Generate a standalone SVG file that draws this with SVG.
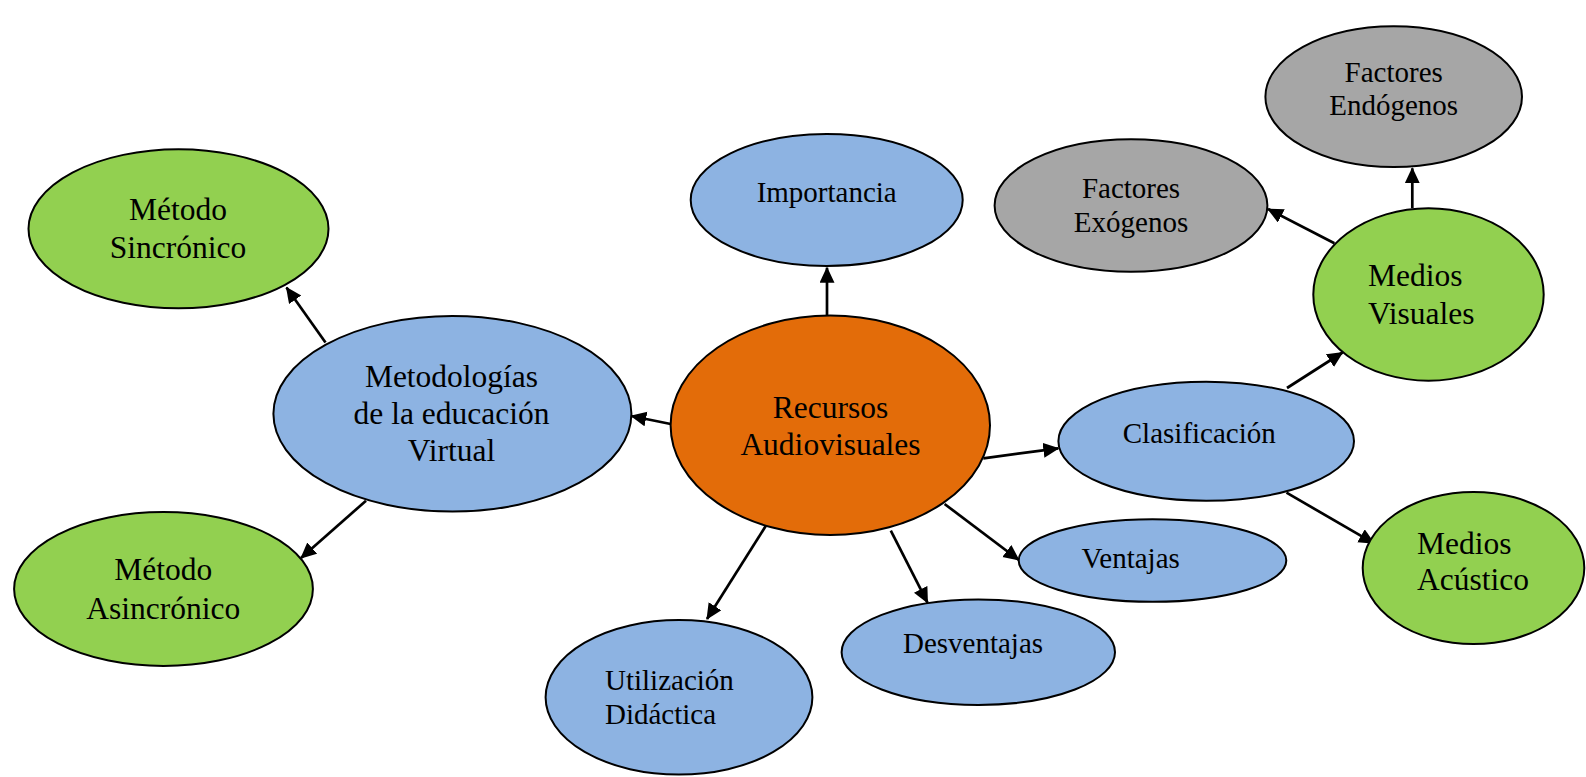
<svg xmlns="http://www.w3.org/2000/svg" width="1586" height="777" viewBox="0 0 1586 777">
<style>
  .n { stroke: #000; stroke-width: 2; }
  .blue { fill: #8DB3E2; }
  .green { fill: #92D050; }
  .orange { fill: #E36C09; }
  .gray { fill: #A6A6A6; }
  text { font-family: "Liberation Serif", "Times New Roman", serif; fill: #000; }
  .big { font-size: 31.5px; }
  .small { font-size: 29px; }
  .c { text-anchor: middle; }
  .e { stroke: #000; stroke-width: 2.7; fill: none; marker-end: url(#arr); }
</style>
<defs>
  <marker id="arr" markerUnits="userSpaceOnUse" markerWidth="18" markerHeight="17" refX="15" refY="7.5" orient="auto">
    <path d="M0,0 L16,7.5 L0,15 z" fill="#000"/>
  </marker>
</defs>
<rect width="1586" height="777" fill="#fff"/>
<g id="connectors">
  <line class="e" x1="827" y1="315" x2="827" y2="267.7"/>
  <line class="e" x1="670.7" y1="424" x2="631.3" y2="416"/>
  <line class="e" x1="325.5" y1="342.5" x2="286.5" y2="287.5"/>
  <line class="e" x1="366" y1="500.7" x2="301" y2="558"/>
  <line class="e" x1="765.7" y1="526" x2="707" y2="619"/>
  <line class="e" x1="890.8" y1="530.7" x2="927.5" y2="602.7"/>
  <line class="e" x1="944.6" y1="504" x2="1018.8" y2="560"/>
  <line class="e" x1="983.3" y1="458.3" x2="1058.3" y2="448.3"/>
  <line class="e" x1="1286.5" y1="492.7" x2="1374" y2="543.3"/>
  <line class="e" x1="1287" y1="388" x2="1342.5" y2="352.5"/>
  <line class="e" x1="1334.4" y1="243.3" x2="1268" y2="209"/>
  <line class="e" x1="1412.3" y1="208.3" x2="1412.3" y2="168.3"/>
</g>
<g id="metodo-sincronico">
  <ellipse class="n green" cx="178.5" cy="228.8" rx="150" ry="79.5"/>
  <text class="big c" x="178" y="220">Método</text>
  <text class="big c" x="178" y="258">Sincrónico</text>
</g>
<g id="metodo-asincronico">
  <ellipse class="n green" cx="163.5" cy="589" rx="149.4" ry="77"/>
  <text class="big c" x="163.3" y="580">Método</text>
  <text class="big c" x="163.3" y="619">Asincrónico</text>
</g>
<g id="metodologias">
  <ellipse class="n blue" cx="452.4" cy="413.8" rx="179" ry="97.8"/>
  <text class="big c" x="451.5" y="387">Metodologías</text>
  <text class="big c" x="451.5" y="423.5">de la educación</text>
  <text class="big c" x="451.5" y="460.5">Virtual</text>
</g>
<g id="utilizacion">
  <ellipse class="n blue" cx="679" cy="697.3" rx="133.4" ry="77.3"/>
  <text class="small" x="605" y="690">Utilización</text>
  <text class="small" x="605" y="724.3">Didáctica</text>
</g>
<g id="importancia">
  <ellipse class="n blue" cx="826.7" cy="200" rx="136" ry="66"/>
  <text class="small c" x="826.7" y="202">Importancia</text>
</g>
<g id="recursos">
  <ellipse class="n orange" cx="830.3" cy="425.3" rx="159.7" ry="109.7"/>
  <text class="big c" x="830.5" y="417.7">Recursos</text>
  <text class="big c" x="830.5" y="455">Audiovisuales</text>
</g>
<g id="clasificacion">
  <ellipse class="n blue" cx="1206.2" cy="441.2" rx="147.8" ry="59.5"/>
  <text class="small c" x="1199.3" y="442.7">Clasificación</text>
</g>
<g id="ventajas">
  <ellipse class="n blue" cx="1152.5" cy="560.5" rx="133.8" ry="41.3"/>
  <text class="small c" x="1130.7" y="567.7">Ventajas</text>
</g>
<g id="desventajas">
  <ellipse class="n blue" cx="978.3" cy="652.2" rx="136.7" ry="52.8"/>
  <text class="small c" x="973" y="653.3">Desventajas</text>
</g>
<g id="factores-endogenos">
  <ellipse class="n gray" cx="1393.7" cy="96.7" rx="128.3" ry="70.4"/>
  <text class="small c" x="1393.7" y="81.7">Factores</text>
  <text class="small c" x="1393.7" y="115">Endógenos</text>
</g>
<g id="factores-exogenos">
  <ellipse class="n gray" cx="1131" cy="205.5" rx="136.4" ry="66.2"/>
  <text class="small c" x="1131" y="198.3">Factores</text>
  <text class="small c" x="1131" y="231.7">Exógenos</text>
</g>
<g id="medios-visuales">
  <ellipse class="n green" cx="1428.5" cy="294.5" rx="115.2" ry="86.2"/>
  <text class="big" x="1368" y="286">Medios</text>
  <text class="big" x="1368" y="324">Visuales</text>
</g>
<g id="medios-acustico">
  <ellipse class="n green" cx="1473.5" cy="568" rx="110.8" ry="76"/>
  <text class="big" x="1417" y="554">Medios</text>
  <text class="big" x="1417" y="590">Acústico</text>
</g>
</svg>
